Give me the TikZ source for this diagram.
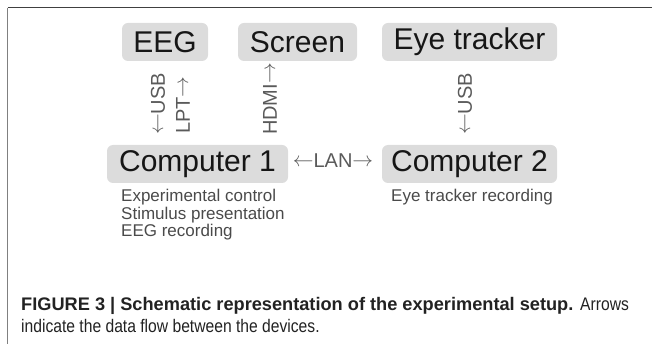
\documentclass[tikz,border=0pt]{standalone}
\usepackage{fontspec}
\setmainfont{Liberation Sans}
\newfontfamily\capreg[FakeStretch=0.86]{Liberation Sans}
\definecolor{boxgray}{HTML}{DCDCDC}
\definecolor{boxtext}{HTML}{161616}
\definecolor{labgray}{HTML}{5A5A5A}
\definecolor{desctext}{HTML}{4A4A4A}
\definecolor{captext}{HTML}{222222}
\newcommand{\la}{\raisebox{0.09em}{$\leftarrow$}}
\newcommand{\ra}{\raisebox{0.09em}{$\rightarrow$}}
\begin{document}
\begin{tikzpicture}[x=1pt,y=-1pt,
  devbox/.style={fill=boxgray, rounded corners=6pt, text=boxtext, inner sep=0pt,
    minimum height=38pt, font=\fontsize{30}{32}\selectfont},
  linklabel/.style={text=labgray, inner sep=0pt, font=\fontsize{20}{22}\selectfont},
  desc/.style={text=desctext, inner sep=0pt, align=left, anchor=north west,
    font=\fontsize{17}{17.5}\selectfont},
  frameline/.style={line width=1pt}]
\useasboundingbox (0,0) rectangle (652,344);
% frame
\coordinate (ftl) at (7.5,8);
\coordinate (ftr) at (652,8);
\coordinate (fbl) at (7.5,344);
\draw[frameline, draw=black!75] (ftl) -- (ftr);
\draw[line width=1.5pt, draw=black!50] (ftl) -- (fbl);
% devices
\node[devbox, minimum width=86pt] (eeg) at (165,42) {EEG};
\node[devbox, minimum width=119pt] (screen) at (297.5,42) {Screen};
\node[devbox, minimum width=175pt] (eye) at (469.5,42) {Eye tracker};
\node[devbox, minimum width=181pt] (c1) at (197.5,164) {Computer 1};
\node[devbox, minimum width=175pt] (c2) at (469.5,164) {Computer 2};
% links
\node[linklabel, rotate=90] (usb1) at (158,104) {\la USB};
\node[linklabel, rotate=90] (lpt) at (183,105) {LPT\ra};
\node[linklabel, rotate=90] (hdmi) at (270,99) {HDMI\ra};
\node[linklabel, rotate=90] (usb2) at (465,104) {\la USB};
\node[linklabel] (lan) at (333,161) {\la LAN\ra};
% descriptions
\node[desc] (d1) at (121,189) {Experimental control\\Stimulus presentation\\EEG recording};
\node[desc] (d2) at (391,189) {Eye tracker recording};
% caption
\node[inner sep=0pt, anchor=base west, text=captext, font=\fontsize{18.2}{22}\selectfont, align=left]
  (cap) at (21,332) {\textbf{FIGURE 3 | Schematic representation of the experimental setup.} {\capreg Arrows}\\{\capreg indicate the data flow between the devices.}};
\end{tikzpicture}
\end{document}
